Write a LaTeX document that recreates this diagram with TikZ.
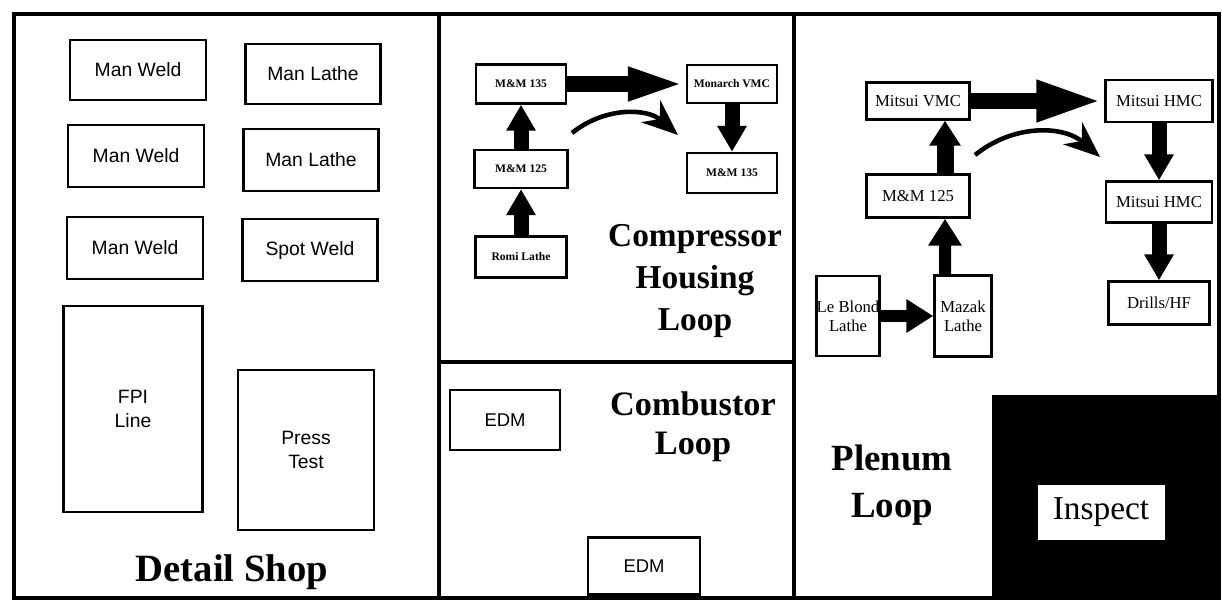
\documentclass[tikz,border=0pt]{standalone}
\usepackage{fontspec}
\setmainfont{Liberation Serif}
\setsansfont{Liberation Sans}
\usetikzlibrary{arrows.meta}

\begin{document}
\begin{tikzpicture}[x=0.02cm, y=-0.02cm,
  wall/.style={line width=1.8pt},
  shopbox/.style={draw, line width=1.6pt, inner sep=1pt, align=center, font=\sffamily\fontsize{11}{14}\selectfont},
  cellbox/.style={draw, line width=1.4pt, inner sep=1pt, align=center, font=\fontsize{9.5}{11}\selectfont},
  tinybox/.style={draw, line width=1.4pt, inner sep=1pt, font=\bfseries\fontsize{6.6}{8}\selectfont},
  title/.style={align=center, font=\bfseries\fontsize{21}{24}\selectfont},
  upflow/.style={line width=0.3cm, -{Triangle[length=0.52cm,width=0.56cm]}},
  sideflow/.style={line width=0.34cm, -{Triangle[length=1.2cm,width=0.62cm]}},
  loopflow/.style={line width=2.6pt, -{Stealth[length=0.72cm,width=0.58cm]}}
]
\useasboundingbox (0,0) rectangle (1222,608);

\fill (992,395) rectangle (1219,598);
\draw[wall] (14,14) rectangle (1219,598);
\draw[wall] (439,14) -- (439,598);
\draw[wall] (794,14) -- (794,598);
\draw[wall] (439,362) -- (794,362);

\node[shopbox, minimum width=2.72cm, minimum height=1.2cm] (mwa) at (138,70) {Man Weld};
\node[shopbox, minimum width=2.7cm, minimum height=1.2cm] (mla) at (313,74) {Man Lathe};
\node[shopbox, minimum width=2.72cm, minimum height=1.24cm] (mwb) at (136,156) {Man Weld};
\node[shopbox, minimum width=2.7cm, minimum height=1.24cm] (mlb) at (311,160) {Man Lathe};
\node[shopbox, minimum width=2.72cm, minimum height=1.24cm] (mwc) at (135,248) {Man Weld};
\node[shopbox, minimum width=2.7cm, minimum height=1.24cm] (swc) at (310,250) {Spot Weld};
\node[shopbox, minimum width=2.78cm, minimum height=4.12cm] (fpi) at (133,409) {FPI\\Line};
\node[shopbox, minimum width=2.72cm, minimum height=3.2cm] (press) at (306,450) {Press\\Test};
\node[title, font=\bfseries\fontsize{22}{24}\selectfont] (detail) at (232,572) {Detail Shop};

\node[tinybox, minimum width=1.8cm, minimum height=0.78cm] (cma) at (521,84) {M\&M 135};
\node[tinybox, minimum width=1.8cm, minimum height=0.76cm] (monarch) at (732,84) {Monarch VMC};
\node[tinybox, minimum width=1.86cm, minimum height=0.76cm] (cmb) at (521,169) {M\&M 125};
\node[tinybox, minimum width=1.8cm, minimum height=0.8cm] (cmc) at (732,173) {M\&M 135};
\node[tinybox, minimum width=1.82cm, minimum height=0.82cm] (romi) at (521,257) {Romi Lathe};
\node[title, font=\bfseries\fontsize{19}{24}\selectfont] (compressor) at (695,281) {Compressor\\Housing\\Loop};

\draw[upflow] (romi) -- (cmb);
\draw[upflow] (cmb) -- (cma);
\draw[sideflow, line width=0.34cm, -{Triangle[length=1.16cm,width=0.6cm]}] (cma) -- (monarch);
\draw[upflow] (monarch) -- (cmc);
\coordinate (cstart) at (572,133);
\coordinate (cend) at (678,135);
\draw[loopflow] (cstart) to[bend left=40] (cend);

\node[shopbox, font=\sffamily\fontsize{10.5}{12}\selectfont, minimum width=2.2cm, minimum height=1.2cm] (edma) at (505,420) {EDM};
\node[shopbox, font=\sffamily\fontsize{10.5}{12}\selectfont, minimum width=2.24cm, minimum height=1.14cm] (edmb) at (644,566) {EDM};
\node[title, font=\bfseries\fontsize{19.5}{22}\selectfont] (combustor) at (693,427) {Combustor\\Loop};

\node[cellbox, minimum width=2.06cm, minimum height=0.74cm] (pvmc) at (918,101) {Mitsui VMC};
\node[cellbox, minimum width=2.14cm, minimum height=0.84cm] (phmca) at (1159,101) {Mitsui HMC};
\node[cellbox, minimum width=2.06cm, minimum height=0.86cm] (pmm) at (918,196) {M\&M 125};
\node[cellbox, minimum width=2.12cm, minimum height=0.82cm] (phmcb) at (1159,202) {Mitsui HMC};
\node[cellbox, inner sep=0pt, minimum width=1.26cm, minimum height=1.6cm] (leblond) at (848,316) {Le Blond\\Lathe};
\node[cellbox, inner sep=0pt, minimum width=1.14cm, minimum height=1.62cm] (mazak) at (963,316) {Mazak\\Lathe};
\node[cellbox, minimum width=2.02cm, minimum height=0.86cm] (drills) at (1159,303) {Drills/HF};
\node[title, font=\bfseries\fontsize{21}{27}\selectfont] (plenum) at (892,485) {Plenum\\Loop};
\node[fill=white, minimum width=2.54cm, minimum height=1.1cm, font=\fontsize{19}{22}\selectfont] (inspect) at (1101,512) {Inspect};

\draw[sideflow, line width=0.24cm, -{Triangle[length=0.54cm,width=0.64cm]}] (leblond) -- (mazak);
\draw[upflow, line width=0.24cm, -{Triangle[length=0.54cm,width=0.64cm]}] ([xshift=-0.36cm]mazak.north) -- ([xshift=0.54cm]pmm.south);
\draw[upflow, line width=0.34cm, -{Triangle[length=0.5cm,width=0.6cm]}] ([xshift=0.54cm]pmm.north) -- ([xshift=0.54cm]pvmc.south);
\draw[sideflow, -{Triangle[length=1.36cm,width=0.74cm]}] (pvmc) -- (phmca);
\draw[upflow] (phmca) -- (phmcb);
\draw[upflow] (phmcb) -- (drills);
\coordinate (pstart) at (975,155);
\coordinate (pend) at (1100,157);
\draw[loopflow] (pstart) to[bend left=40] (pend);
\end{tikzpicture}
\end{document}
